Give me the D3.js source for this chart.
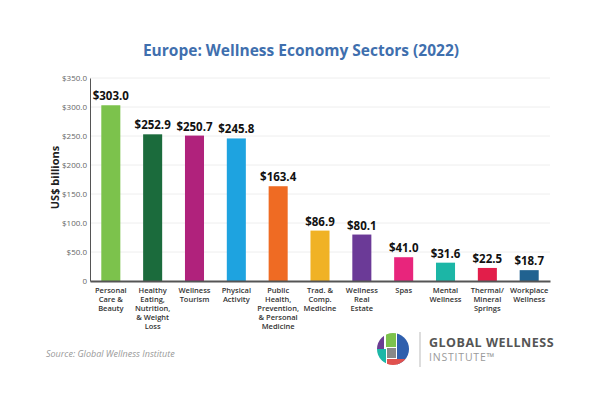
<!DOCTYPE html>
<html><head><meta charset="utf-8">
<script src="https://cdn.jsdelivr.net/npm/d3@7"></script>
<style>
html,body{margin:0;padding:0;background:#fff;}
svg{display:block;font-family:"Open Sans",sans-serif;}
</style></head>
<body>
<svg id="c" width="600" height="407"></svg>
<script>
const categories = [
  ["Personal","Care &","Beauty"],
  ["Healthy","Eating,","Nutrition,","& Weight","Loss"],
  ["Wellness","Tourism"],
  ["Physical","Activity"],
  ["Public","Health,","Prevention,","& Personal","Medicine"],
  ["Trad. &","Comp.","Medicine"],
  ["Wellness","Real","Estate"],
  ["Spas"],
  ["Mental","Wellness"],
  ["Thermal/","Mineral","Springs"],
  ["Workplace","Wellness"]
];
const values = [303.0, 252.9, 250.7, 245.8, 163.4, 86.9, 80.1, 41.0, 31.6, 22.5, 18.7];
const colors = ["#7cc24c","#1b6b3c","#b0227c","#1ea3e0","#ef6b23","#f0b225","#6b3a97","#e8257c","#1cb6a6","#e21e4a","#216290"];
const yTicks = [0,50,100,150,200,250,300,350];
const yTickLabels = ["0","$50.0","$100.0","$150.0","$200.0","$250.0","$300.0","$350.0"];

const svg = d3.select("#c");
const m = {left:90, right:50, top:78, bottom:126};
const W = 600, H = 407;
const x = d3.scaleBand().domain(d3.range(values.length)).range([m.left, W-m.right]).paddingInner(0.545).paddingOuter(0.27);
const y = d3.scaleLinear().domain([0,350]).range([H-m.bottom, m.top]);

// title
svg.append("text").attr("x",301).attr("y",56).attr("text-anchor","middle")
  .attr("font-size",15.5).attr("font-weight",700).attr("fill","#3f6fae")
  .text("Europe: Wellness Economy Sectors (2022)");

// gridlines
svg.append("g").selectAll("line").data(yTicks.slice(1)).join("line")
  .attr("x1",m.left).attr("x2",W-m.right).attr("y1",d=>y(d)).attr("y2",d=>y(d))
  .attr("stroke","#eeeeee").attr("stroke-width",1);

// y axis
const yAxis = d3.axisLeft(y).tickValues(yTicks).tickFormat((d,i)=>yTickLabels[i]).tickSize(0).tickPadding(3);
const gy = svg.append("g").attr("transform",`translate(${m.left},0)`).call(yAxis);
gy.select(".domain").attr("stroke","#555").attr("stroke-width",1);
gy.selectAll("text").attr("font-size",8).attr("fill","#666").attr("font-family","'Open Sans',sans-serif");

// y axis title
svg.append("text").attr("transform",`translate(59,${(y(0)+y(350))/2-2}) rotate(-90)`)
  .attr("text-anchor","middle").attr("font-size",11).attr("font-weight",700).attr("fill","#222")
  .text("US$ billions");

// bars
svg.append("g").selectAll("rect").data(values).join("rect")
  .attr("x",(d,i)=>x(i)).attr("width",x.bandwidth())
  .attr("y",d=>y(d)).attr("height",d=>y(0)-y(d))
  .attr("fill",(d,i)=>colors[i]);

// value labels
svg.append("g").selectAll("text").data(values).join("text")
  .attr("x",(d,i)=>x(i)+x.bandwidth()/2).attr("y",d=>y(d)-5)
  .attr("text-anchor","middle").attr("font-size",11.5).attr("font-weight",700).attr("fill","#111")
  .text(d=>"$"+d.toFixed(1));

// x axis
const xAxis = d3.axisBottom(x).tickSize(0).tickFormat("");
const gx = svg.append("g").attr("transform",`translate(0,${y(0)})`).call(xAxis);
gx.select(".domain").attr("stroke","#555").attr("stroke-width",2);

// category labels
const cl = svg.append("g").selectAll("text").data(categories).join("text")
  .attr("text-anchor","middle").attr("font-size",7.5).attr("font-weight",600).attr("fill","#333");
cl.each(function(lines,i){
  const t = d3.select(this);
  lines.forEach((l,j)=>{
    t.append("tspan").attr("x",x(i)+x.bandwidth()/2).attr("y",y(0)+12+j*9).text(l);
  });
});

// source
svg.append("text").attr("x",46).attr("y",357).attr("font-size",9).attr("font-style","italic")
  .attr("fill","#999").text("Source: Global Wellness Institute");

// logo
const lg = svg.append("g").attr("transform","translate(393,349)");
const defs = svg.append("defs");
defs.append("clipPath").attr("id","lc").append("circle").attr("r",16);
const lc = lg.append("g").attr("clip-path","url(#lc)");
lc.append("rect").attr("x",-17).attr("y",-17).attr("width",34).attr("height",34).attr("fill","#fff");
lc.append("rect").attr("x",-17).attr("y",-17).attr("width",8).attr("height",17).attr("fill","#6a3d93");
lc.append("rect").attr("x",-7).attr("y",-17).attr("width",10).attr("height",15).attr("fill","#7cc24c");
lc.append("rect").attr("x",4).attr("y",-17).attr("width",13).attr("height",34).attr("fill","#2f5fad");
lc.append("rect").attr("x",-17).attr("y",0).attr("width",10).attr("height",17).attr("fill","#1db7a7");
lc.append("rect").attr("x",-6).attr("y",-1).attr("width",9).attr("height",10).attr("fill","#888");
lc.append("rect").attr("x",-6).attr("y",10).attr("width",22).attr("height",8).attr("fill","#e0514e");
svg.append("line").attr("x1",420).attr("x2",420).attr("y1",332).attr("y2",367).attr("stroke","#bbb").attr("stroke-width",1);
svg.append("text").attr("x",429).attr("y",347).attr("font-size",12.5).attr("font-weight",700).attr("fill","#555")
  .attr("letter-spacing",0.5).text("GLOBAL WELLNESS");
svg.append("text").attr("x",429).attr("y",361).attr("font-size",10.5).attr("fill","#9a9a9a").attr("letter-spacing",0.8)
  .text("INSTITUTE\u2122");
</script>
</body></html>
